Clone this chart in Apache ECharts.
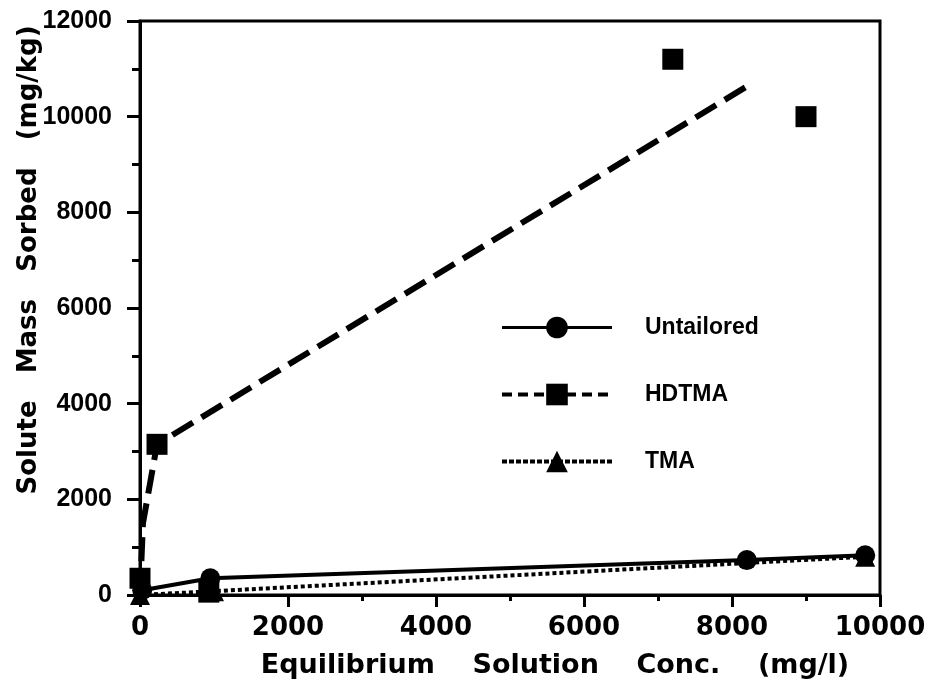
<!DOCTYPE html>
<html lang="en">
<head>
<meta charset="utf-8">
<title>Solute mass sorbed vs equilibrium solution conc.</title>
<script src="https://cdn.jsdelivr.net/npm/echarts@6/dist/echarts.min.js"></script>
</head>
<body style="margin:0;background:#fff">
<div id="main" style="width:937px;height:690px"></div>
<script>
// points: [conc (mg/l), sorbed (mg/kg)]
var untailored = [[30, 100], [950, 350], [8200, 730], [9800, 830]];
var hdtma = [[0, 350], [930, 60], [230, 3150], [7200, 11200], [9000, 10000]];
var hdtmaFit = [[0, 0], [40, 1500], [230, 3150], [8250, 10680]];
var tma = [[0, 0], [1000, 80], [9800, 800]];
var xTicks = [0, 2000, 4000, 6000, 8000, 10000];
var yTicks = [0, 2000, 4000, 6000, 8000, 10000, 12000];

var black = '#000';
var chart = echarts.init(document.getElementById('main'));

function plain(v) { return String(v); }

chart.setOption({
    backgroundColor: '#fff',
    animation: false,
    grid: {
        left: 140, right: 57, top: 21, bottom: 95,
        outerBoundsMode: 'none',
        show: true, borderColor: black, borderWidth: 3
    },
    legend: {
        orient: 'vertical',
        left: 495,
        top: 311,
        itemWidth: 110,
        itemHeight: 27,
        itemGap: 44,
        textStyle: { fontFamily: 'Liberation Sans', fontWeight: 'bold', fontSize: 23, color: black, padding: [0, 0, 0, 28] },
        data: [
            { name: 'Untailored', lineStyle: { width: 3 } },
            { name: 'HDTMA', lineStyle: { width: 4, type: [10, 6] } },
            { name: 'TMA', lineStyle: { width: 4, type: [5, 2] } }
        ]
    },
    xAxis: {
        type: 'value',
        min: xTicks[0],
        max: xTicks[xTicks.length - 1],
        interval: 2000,
        name: 'Equilibrium    Solution    Conc.    (mg/l)',
        nameLocation: 'middle',
        nameGap: 57,
        nameMoveOverlap: false,
        nameTextStyle: { fontFamily: 'DejaVu Sans', fontWeight: 'bold', fontSize: 27, color: black, padding: [0, 0, 0, 90] },
        axisLine: { onZero: false, lineStyle: { color: black, width: 3 } },
        axisTick: { length: 12, lineStyle: { color: black, width: 3 } },
        minorTick: { show: true, splitNumber: 2, length: 6, lineStyle: { color: black, width: 3 } },
        splitLine: { show: false },
        axisLabel: { fontFamily: 'DejaVu Sans', fontWeight: 'bold', fontSize: 26, color: black, margin: 20, formatter: plain }
    },
    yAxis: {
        type: 'value',
        min: yTicks[0],
        max: yTicks[yTicks.length - 1],
        interval: 2000,
        name: 'Solute   Mass   Sorbed   (mg/kg)',
        nameLocation: 'middle',
        nameGap: 98,
        nameRotate: 90,
        nameMoveOverlap: false,
        nameTextStyle: { fontFamily: 'DejaVu Sans', fontWeight: 'bold', fontSize: 26, color: black, padding: [0, 0, 0, 96] },
        axisLine: { onZero: false, lineStyle: { color: black, width: 3 } },
        axisTick: { length: 13, lineStyle: { color: black, width: 3 } },
        minorTick: { show: true, splitNumber: 2, length: 8, lineStyle: { color: black, width: 3 } },
        splitLine: { show: false },
        axisLabel: { fontFamily: 'Liberation Sans', fontWeight: 'bold', fontSize: 25, color: black, margin: 28, formatter: plain }
    },
    series: [
        {
            name: 'Untailored',
            type: 'line',
            data: untailored,
            symbol: 'circle',
            symbolSize: 20,
            itemStyle: { color: black },
            lineStyle: { color: black, width: 4 },
            z: 3
        },
        {
            // fitted curve, drawn without markers
            name: 'HDTMA',
            type: 'line',
            data: hdtmaFit,
            symbol: 'rect',
            showSymbol: false,
            itemStyle: { color: black },
            lineStyle: { color: black, width: 6, type: [24, 10] },
            z: 2
        },
        {
            name: 'HDTMA',
            type: 'scatter',
            data: hdtma,
            symbol: 'rect',
            symbolSize: 21,
            itemStyle: { color: black, opacity: 1 },
            z: 4
        },
        {
            name: 'TMA',
            type: 'line',
            data: tma,
            symbol: 'triangle',
            symbolSize: 20,
            itemStyle: { color: black },
            lineStyle: { color: black, width: 4, type: [4, 3] },
            z: 2
        }
    ]
});
</script>
</body>
</html>
